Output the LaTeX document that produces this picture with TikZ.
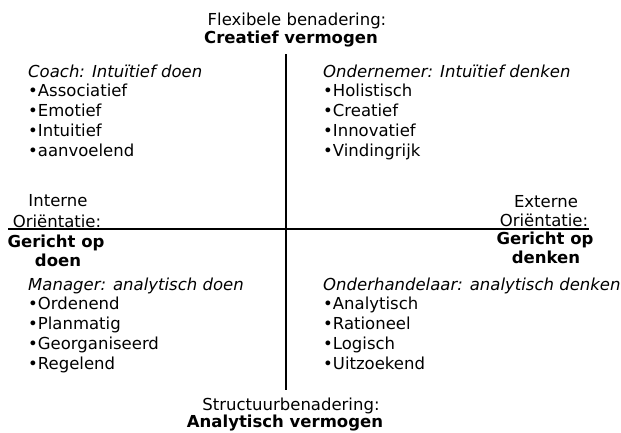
\documentclass[tikz,border=0pt]{standalone}
\usepackage{fontspec}
\setmainfont{DejaVu Sans}
\begin{document}
\begin{tikzpicture}[x=1pt,y=-1pt,
  txt/.style={inner sep=0pt,font=\fontsize{16.5}{19.8}\selectfont},
  lft/.style={txt,anchor=base west},
  ctr/.style={txt,anchor=base},
  axis/.style={line width=2pt,black}]
\useasboundingbox (0,0) rectangle (621,432);
% axes
\coordinate (vtop) at (285.5,54);
\coordinate (vbot) at (285.5,390);
\coordinate (hleft) at (8,229);
\coordinate (hright) at (589,229);
\draw[axis] (vtop) -- (vbot);
\draw[axis] (hleft) -- (hright);
% top / bottom labels
\node[ctr] (t1) at (297,25) {Flexibele benadering:};
\node[ctr] (t2) at (291,43) {\bfseries Creatief vermogen};
\node[ctr] (b1) at (291,410) {Structuurbenadering:};
\node[ctr] (b2) at (285,427.5) {\bfseries Analytisch vermogen};
% left / right labels
\node[ctr] (l1) at (58,206) {Interne};
\node[ctr] (l2) at (57,227) {Oriëntatie:};
\node[ctr] (l3) at (56,247) {\bfseries Gericht op};
\node[ctr] (l4) at (58,266) {\bfseries doen};
\node[ctr] (r1) at (546,207) {Externe};
\node[ctr] (r2) at (544,226) {Oriëntatie:};
\node[ctr] (r3) at (545,244) {\bfseries Gericht op};
\node[ctr] (r4) at (546,263) {\bfseries denken};
% quadrants
\foreach \t [count=\i from 0] in {{\itshape Coach: Intuïtief doen},•Associatief,•Emotief,•Intuitief,•aanvoelend}
  \node[lft] (ql\i) at (28,77+19.75*\i) {\t};
\foreach \t [count=\i from 0] in {{\itshape Ondernemer: Intuïtief denken},•Holistisch,•Creatief,•Innovatief,•Vindingrijk}
  \node[lft] (qr\i) at (323,77+19.75*\i) {\t};
\foreach \t [count=\i from 0] in {{\itshape Manager: analytisch doen},•Ordenend,•Planmatig,•Georganiseerd,•Regelend}
  \node[lft] (pl\i) at (28,290+19.75*\i) {\t};
\foreach \t [count=\i from 0] in {{\itshape Onderhandelaar: analytisch denken},•Analytisch,•Rationeel,•Logisch,•Uitzoekend}
  \node[lft] (pr\i) at (323,290+19.75*\i) {\t};
\end{tikzpicture}
\end{document}
